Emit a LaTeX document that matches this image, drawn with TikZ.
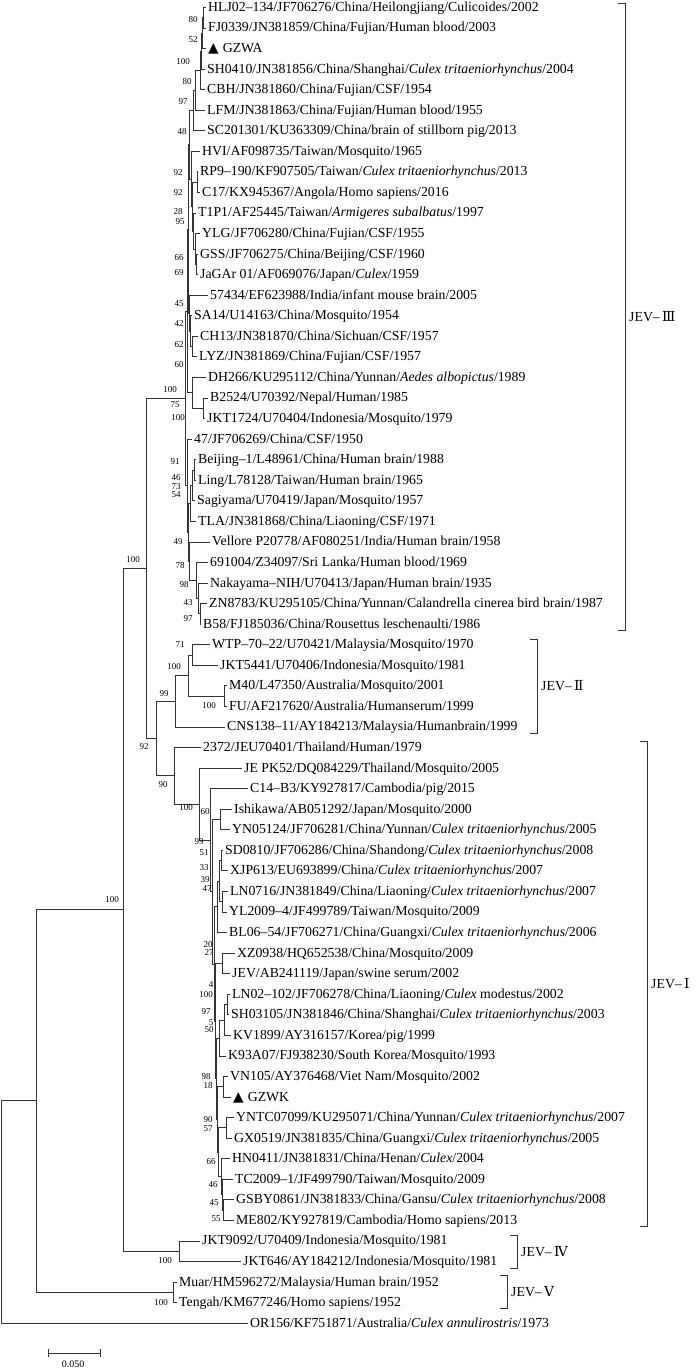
\documentclass[tikz,border=0pt]{standalone}
\usepackage{fontspec}
\setmainfont{Liberation Serif}
\newfontfamily\trifont{DejaVu Sans}
\newfontfamily\romfont{DejaVu Serif}
\tikzset{
  branch/.style={draw=black!80,line width=0.7pt},
  leaf/.style={anchor=west,inner xsep=2pt,inner ysep=0pt,text height=10pt,text depth=2pt,font=\fontsize{13.8}{14}\selectfont},
  boot/.style={inner sep=0pt,font=\fontsize{9}{9}\selectfont},
  clade/.style={anchor=west,inner sep=0pt,font=\fontsize{13.8}{14}\selectfont},
  scalelbl/.style={inner sep=0pt,font=\fontsize{10}{10}\selectfont}
}

\begin{document}
\begin{tikzpicture}[x=1pt,y=-1pt]
\useasboundingbox (0,0) rectangle (700,1369);

% leaves, JEV-III
\node[leaf] (hlj) at (206,7.3) {HLJ02–134/JF706276/China/Heilongjiang/Culicoides/2002};
\node[leaf] (fj) at (206,27.9) {FJ0339/JN381859/China/Fujian/Human blood/2003};
\node[leaf] (gzwa) at (206,48.4) {{\trifont ▲}\hspace{4pt}GZWA};
\node[leaf] (sh0410) at (205,69.0) {SH0410/JN381856/China/Shanghai/\textit{Culex tritaeniorhynchus}/2004};
\node[leaf] (cbh) at (205,89.5) {CBH/JN381860/China/Fujian/CSF/1954};
\node[leaf] (lfm) at (205,110.1) {LFM/JN381863/China/Fujian/Human blood/1955};
\node[leaf] (sc) at (205,130.7) {SC201301/KU363309/China/brain of stillborn pig/2013};
\node[leaf] (hvi) at (200,151.2) {HVI/AF098735/Taiwan/Mosquito/1965};
\node[leaf] (rp9) at (198,171.8) {RP9–190/KF907505/Taiwan/\textit{Culex tritaeniorhynchus}/2013};
\node[leaf] (c17) at (200,192.3) {C17/KX945367/Angola/Homo sapiens/2016};
\node[leaf] (t1p1) at (196,212.9) {T1P1/AF25445/Taiwan/\textit{Armigeres subalbatus}/1997};
\node[leaf] (ylg) at (200,233.5) {YLG/JF706280/China/Fujian/CSF/1955};
\node[leaf] (gss) at (198,254.0) {GSS/JF706275/China/Beijing/CSF/1960};
\node[leaf] (jagar) at (198,274.6) {JaGAr 01/AF069076/Japan/\textit{Culex}/1959};
\node[leaf] (m57434) at (208,295.1) {57434/EF623988/India/infant mouse brain/2005};
\node[leaf] (sa14) at (192,315.7) {SA14/U14163/China/Mosquito/1954};
\node[leaf] (ch13) at (198,336.3) {CH13/JN381870/China/Sichuan/CSF/1957};
\node[leaf] (lyz) at (197,356.8) {LYZ/JN381869/China/Fujian/CSF/1957};
\node[leaf] (dh266) at (206,377.4) {DH266/KU295112/China/Yunnan/\textit{Aedes albopictus}/1989};
\node[leaf] (b2524) at (208,397.9) {B2524/U70392/Nepal/Human/1985};
\node[leaf] (jkt1724) at (205,418.5) {JKT1724/U70404/Indonesia/Mosquito/1979};
\node[leaf] (j47) at (192,439.1) {47/JF706269/China/CSF/1950};
\node[leaf] (beijing) at (196,459.6) {Beijing–1/L48961/China/Human brain/1988};
\node[leaf] (ling) at (196,480.2) {Ling/L78128/Taiwan/Human brain/1965};
\node[leaf] (sagiyama) at (195,500.7) {Sagiyama/U70419/Japan/Mosquito/1957};
\node[leaf] (tla) at (196,521.3) {TLA/JN381868/China/Liaoning/CSF/1971};
\node[leaf] (vellore) at (210,541.9) {Vellore P20778/AF080251/India/Human brain/1958};
\node[leaf] (s691004) at (208,562.4) {691004/Z34097/Sri Lanka/Human blood/1969};
\node[leaf] (nakayama) at (208,583.0) {Nakayama–NIH/U70413/Japan/Human brain/1935};
\node[leaf] (zn8783) at (207,603.5) {ZN8783/KU295105/China/Yunnan/Calandrella cinerea bird brain/1987};
\node[leaf] (b58) at (201,624.1) {B58/FJ185036/China/Rousettus leschenaulti/1986};
% leaves, JEV-II
\node[leaf] (wtp) at (210,644.7) {WTP–70–22/U70421/Malaysia/Mosquito/1970};
\node[leaf] (jkt5441) at (218,665.2) {JKT5441/U70406/Indonesia/Mosquito/1981};
\node[leaf] (m40) at (227,685.8) {M40/L47350/Australia/Mosquito/2001};
\node[leaf] (fu) at (227,706.3) {FU/AF217620/Australia/Humanserum/1999};
\node[leaf] (cns138) at (225,726.9) {CNS138–11/AY184213/Malaysia/Humanbrain/1999};
% leaves, JEV-I
\node[leaf] (s2372) at (201,747.5) {2372/JEU70401/Thailand/Human/1979};
\node[leaf] (jepk52) at (242,768.0) {JE PK52/DQ084229/Thailand/Mosquito/2005};
\node[leaf] (c14) at (248,788.6) {C14–B3/KY927817/Cambodia/pig/2015};
\node[leaf] (ishikawa) at (232,809.1) {Ishikawa/AB051292/Japan/Mosquito/2000};
\node[leaf] (yn05124) at (230,829.7) {YN05124/JF706281/China/Yunnan/\textit{Culex tritaeniorhynchus}/2005};
\node[leaf] (sd0810) at (223,850.3) {SD0810/JF706286/China/Shandong/\textit{Culex tritaeniorhynchus}/2008};
\node[leaf] (xjp613) at (228,870.8) {XJP613/EU693899/China/\textit{Culex tritaeniorhynchus}/2007};
\node[leaf] (ln0716) at (228,891.4) {LN0716/JN381849/China/Liaoning/\textit{Culex tritaeniorhynchus}/2007};
\node[leaf] (yl2009) at (227,911.9) {YL2009–4/JF499789/Taiwan/Mosquito/2009};
\node[leaf] (bl06) at (227,932.5) {BL06–54/JF706271/China/Guangxi/\textit{Culex tritaeniorhynchus}/2006};
\node[leaf] (xz0938) at (235,953.1) {XZ0938/HQ652538/China/Mosquito/2009};
\node[leaf] (jevab) at (230,973.6) {JEV/AB241119/Japan/swine serum/2002};
\node[leaf] (ln02) at (230,994.2) {LN02–102/JF706278/China/Liaoning/\textit{Culex} modestus/2002};
\node[leaf] (sh03105) at (229,1014.7) {SH03105/JN381846/China/Shanghai/\textit{Culex tritaeniorhynchus}/2003};
\node[leaf] (kv1899) at (231,1035.3) {KV1899/AY316157/Korea/pig/1999};
\node[leaf] (k93a07) at (226,1055.9) {K93A07/FJ938230/South Korea/Mosquito/1993};
\node[leaf] (vn105) at (228,1076.4) {VN105/AY376468/Viet Nam/Mosquito/2002};
\node[leaf] (gzwk) at (231,1097.0) {{\trifont ▲}\hspace{4pt}GZWK};
\node[leaf] (yntc) at (234,1117.5) {YNTC07099/KU295071/China/Yunnan/\textit{Culex tritaeniorhynchus}/2007};
\node[leaf] (gx0519) at (232,1138.1) {GX0519/JN381835/China/Guangxi/\textit{Culex tritaeniorhynchus}/2005};
\node[leaf] (hn0411) at (230,1158.7) {HN0411/JN381831/China/Henan/\textit{Culex}/2004};
\node[leaf] (tc2009) at (233,1179.2) {TC2009–1/JF499790/Taiwan/Mosquito/2009};
\node[leaf] (gsby) at (234,1199.8) {GSBY0861/JN381833/China/Gansu/\textit{Culex tritaeniorhynchus}/2008};
\node[leaf] (me802) at (234,1220.3) {ME802/KY927819/Cambodia/Homo sapiens/2013};
% leaves, JEV-IV, JEV-V, outgroup
\node[leaf] (jkt9092) at (200,1240.9) {JKT9092/U70409/Indonesia/Mosquito/1981};
\node[leaf] (jkt646) at (241,1261.5) {JKT646/AY184212/Indonesia/Mosquito/1981};
\node[leaf] (muar) at (177,1282.0) {Muar/HM596272/Malaysia/Human brain/1952};
\node[leaf] (tengah) at (177,1302.6) {Tengah/KM677246/Homo sapiens/1952};
\node[leaf] (or156) at (248,1323.1) {OR156/KF751871/Australia/\textit{Culex annulirostris}/1973};

% internal nodes
\coordinate (root) at (1,1211.8);   \coordinate (nin) at (36,1100.6);
\coordinate (n123) at (123,909);    \coordinate (n146) at (146,568.4);
\coordinate (n156) at (156,738.5);  \coordinate (r3) at (185,398.3);
\coordinate (u) at (187,310.9);     \coordinate (low) at (187,485.7);
\coordinate (u1) at (188,228.9);    \coordinate (u1a) at (189,144.7);
\coordinate (a7) at (193,110.5);    \coordinate (a6) at (195,90.2);
\coordinate (a1) at (200,70.3);     \coordinate (a2) at (201,51);
\coordinate (a3) at (202,33);       \coordinate (a4) at (203,17.6);
\coordinate (b1) at (191,178.9);    \coordinate (b2) at (192,206.5);
\coordinate (b3) at (197,182);      \coordinate (b5) at (193,230.9);
\coordinate (b6) at (195,248.9);    \coordinate (b7) at (196,264.3);
\coordinate (c1) at (189,313.1);    \coordinate (c2) at (190,331.1);
\coordinate (c3) at (192,346.5);    \coordinate (u2) at (192,392.8);
\coordinate (bj) at (203,408.2);    \coordinate (l3) at (188,532.2);
\coordinate (d1) at (190,503.3);    \coordinate (d2) at (192,485.3);
\coordinate (d3) at (194,469.9);    \coordinate (l4) at (189,561.2);
\coordinate (e1) at (196,580.4);    \coordinate (e2) at (198,598.4);
\coordinate (e3) at (200,613.8);
\coordinate (nII) at (175,701.2);   \coordinate (wjmf) at (188,675.5);
\coordinate (wj) at (192,655);      \coordinate (mf) at (224,696);
\coordinate (nI) at (174,775.8);    \coordinate (n199) at (199,804);
\coordinate (n210) at (210,840);    \coordinate (g1) at (212,891.7);
\coordinate (iy) at (220,819.4);    \coordinate (g2) at (214,963.9);
\coordinate (sxlyb) at (217,906.8); \coordinate (sxly) at (219,881.1);
\coordinate (sx) at (221,860.6);    \coordinate (ly) at (222,901.7);
\coordinate (g3) at (215,1021);     \coordinate (xj) at (222,963.4);
\coordinate (g4) at (216,1078.7);   \coordinate (lskk) at (219,1037.9);
\coordinate (lsk) at (224,1019.9);  \coordinate (ls) at (227,1004.5);
\coordinate (g5) at (217,1119.5);   \coordinate (vg) at (223,1086.7);
\coordinate (g6) at (218,1152.2);   \coordinate (yg) at (226,1127.8);
\coordinate (ht) at (221,1176.7);   \coordinate (t1) at (222,1194.6);
\coordinate (t2) at (223,1210);
\coordinate (nIV) at (179,1251.2);  \coordinate (nV) at (173,1292.3);

% branches
\foreach \p/\c in {root/nin, root/or156.west, nin/n123, nin/nV, n123/n146, n123/nIV,
  n146/r3, n146/n156, n156/nII, n156/nI, r3/u, r3/low, u/u1, u/u2, u1/u1a, u1/c1,
  u1a/a7, u1a/b1, a7/a6, a7/sc.west, a6/a1, a6/lfm.west, a1/a2, a1/cbh.west,
  a2/a3, a2/sh0410.west, a3/a4, a3/gzwa.west, a4/hlj.west, a4/fj.west,
  b1/hvi.west, b1/b2, b2/b3, b2/b5, b3/rp9.west, b3/c17.west, b5/t1p1.west, b5/b6,
  b6/ylg.west, b6/b7, b7/gss.west, b7/jagar.west, c1/m57434.west, c1/c2,
  c2/sa14.west, c2/c3, c3/ch13.west, c3/lyz.west, u2/dh266.west, u2/bj,
  bj/b2524.west, bj/jkt1724.west, low/j47.west, low/l3, l3/d1, l3/l4,
  d1/d2, d1/tla.west, d2/d3, d2/sagiyama.west, d3/beijing.west, d3/ling.west,
  l4/vellore.west, l4/e1, e1/s691004.west, e1/e2, e2/nakayama.west, e2/e3,
  e3/zn8783.west, e3/b58.west,
  nII/wjmf, nII/cns138.west, wjmf/wj, wjmf/mf, wj/wtp.west, wj/jkt5441.west,
  mf/m40.west, mf/fu.west,
  nI/s2372.west, nI/n199, n199/jepk52.west, n199/n210, n210/c14.west, n210/g1,
  g1/iy, g1/g2, iy/ishikawa.west, iy/yn05124.west, g2/sxlyb, g2/g3,
  sxlyb/sxly, sxlyb/bl06.west, sxly/sx, sxly/ly, sx/sd0810.west, sx/xjp613.west,
  ly/ln0716.west, ly/yl2009.west, g3/xj, g3/g4, xj/xz0938.west, xj/jevab.west,
  g4/lskk, g4/g5, lskk/lsk, lskk/k93a07.west, lsk/ls, lsk/kv1899.west,
  ls/ln02.west, ls/sh03105.west, g5/vg, g5/g6, vg/vn105.west, vg/gzwk.west,
  g6/yg, g6/ht, yg/yntc.west, yg/gx0519.west, ht/hn0411.west, ht/t1,
  t1/tc2009.west, t1/t2, t2/gsby.west, t2/me802.west,
  nIV/jkt9092.west, nIV/jkt646.west, nV/muar.west, nV/tengah.west}
  \draw[branch] (\p) |- (\c);

% bootstrap values
\foreach \bx/\by/\bv [count=\i] in {193/20/80, 193/40/52, 183/62/100, 187/82/80, 183/102/97,
  182/132/48, 178/173/92, 178/193/92, 178/212/28, 180/222/95, 179/258/66, 179/273/69,
  179/304/45, 179/324/42, 179/345/62, 179/365/60, 170/390/100, 175/405/75, 178/418/100,
  175/462/91, 176/478/46, 176/487/73, 176/495/54, 178/542/49, 180/566/78, 184/585/98,
  188/603/43, 188/619/97, 180/645/71, 174/667/100, 209/706/100, 164/694/99,
  133/560/100, 144/747/92, 112/900/100, 163/785/90, 165/1261/100, 161/1303/100,
  186/808/100, 205/812/60, 199/842/99, 204/853/51, 204/868/33, 205/880/39, 207/889/47,
  208/945/20, 209/953/27, 211/985/4, 206/995/100, 206/1012/97, 211/1023/5, 209/1030/50,
  206/1077/98, 208/1086/18, 208/1120/90, 208/1129/57, 211/1162/66, 213/1185/46,
  214/1203/45, 216/1219/55}
  \node[boot] (bs\i) at (\bx,\by) {\bv};

% genotype brackets
\foreach \bx/\bt/\bb/\bn in {625/3/630/Ⅲ, 537/639/733/Ⅱ, 647/741/1226/Ⅰ, 517/1235/1268/Ⅳ, 507/1275/1308/Ⅴ}{
  \draw[branch] (\bx-7,\bt) -- (\bx,\bt) -- (\bx,\bb) -- (\bx-7,\bb);
  \node[clade] (jev\bn) at (\bx+4,{(\bt+\bb)/2}) {JEV–\,{\romfont\bn}};
}

% scale bar
\coordinate (sb0) at (48,1353); \coordinate (sb1) at (100,1353);
\draw[branch] (sb0) -- (sb1);
\draw[branch] ([yshift=4pt]sb0) -- ([yshift=-4pt]sb0) ([yshift=4pt]sb1) -- ([yshift=-4pt]sb1);
\node[scalelbl] (sbl) at (73,1364) {0.050};
\end{tikzpicture}
\end{document}
